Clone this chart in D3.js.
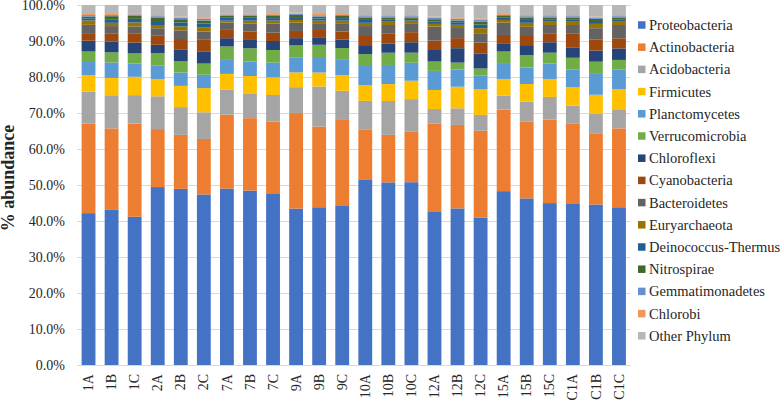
<!DOCTYPE html>
<html>
    <head>
        <script type="text/javascript" src="https://cdn.jsdelivr.net/npm/d3@7"></script>
        <style>
            body { margin: 0; background: #fff; }
            svg text { font-family: "Liberation Serif", "Times New Roman", serif; }
        </style>
    </head>
    <body>
        <div id="viz"></div>

        <script type="text/javascript">

         // samples on the x axis
         var samples = ["1A","1B","1C","2A","2B","2C","7A","7B","7C","9A","9B","9C",
                        "10A","10B","10C","12A","12B","12C","15A","15B","15C","C1A","C1B","C1C"];

         // phylum names, bottom of the stack first (same order as the legend)
         var phyla = ["Proteobacteria","Actinobacteria","Acidobacteria","Firmicutes","Planctomycetes",
                      "Verrucomicrobia","Chloroflexi","Cyanobacteria","Bacteroidetes","Euryarchaeota",
                      "Deinococcus-Thermus","Nitrospirae","Gemmatimonadetes","Chlorobi","Other Phylum"];

         var colors = ["#4472C4","#ED7D31","#A5A5A5","#FFC000","#5B9BD5",
                       "#70AD47","#264478","#9E480E","#636363","#997300",
                       "#255E91","#43682B","#698ED0","#F1975A","#B7B7B7"];

         // % abundance per phylum, one value per sample
         var proteobacteria   = [42.1,43.2,41.2,49.4,48.9,47.3,48.9,48.4,47.7,43.4,43.8,44.2,51.6,50.7,50.8,42.7,43.5,41.0,48.2,46.3,45.0,44.9,44.6,43.8];
         var actinobacteria   = [24.8,22.5,25.9,16.1,15.0,15.4,20.5,20.1,19.9,26.5,22.4,23.9,13.9,13.2,14.0,24.4,23.2,24.1,22.6,21.3,23.2,22.2,19.8,21.9];
         var acidobacteria    = [8.9,9.2,7.9,9.1,7.7,7.4,6.9,6.9,7.4,7.2,11.1,8.1,7.9,9.4,9.1,4.0,4.6,4.4,3.9,5.6,6.3,4.9,5.4,5.3];
         var firmicutes       = [4.6,4.8,5.1,4.8,5.9,6.7,4.4,4.8,4.9,4.1,3.9,4.4,4.4,4.7,5.1,5.3,6.0,7.1,4.6,4.9,5.0,5.1,5.3,5.6];
         var planctomycetes   = [3.6,4.3,3.7,3.7,3.7,3.7,4.1,4.0,4.1,4.2,4.3,4.4,5.3,5.3,5.0,5.3,4.8,3.8,4.4,4.6,4.3,5.0,5.8,5.5];
         var verrucomicrobia  = [2.9,2.8,2.8,3.5,3.1,3.1,3.5,3.7,3.5,3.3,3.4,3.1,3.3,3.4,2.8,2.6,1.9,2.0,3.2,3.4,3.0,3.2,3.4,2.6];
         var chloroflexi      = [3.0,3.0,3.0,2.3,3.2,3.4,2.3,2.3,2.5,2.0,2.1,2.3,2.5,2.6,2.9,3.2,4.0,4.2,2.3,2.8,2.9,2.9,3.1,3.2];
         var cyanobacteria    = [2.1,2.3,2.6,2.5,3.0,3.2,2.3,2.3,2.3,2.0,2.0,2.3,2.8,2.8,2.8,2.6,2.8,3.0,2.3,2.8,2.5,3.9,3.0,2.8];
         var bacteroidetes    = [2.3,2.0,1.9,2.1,2.4,2.3,2.0,2.3,2.6,2.3,1.7,2.1,2.5,2.3,2.3,3.9,2.8,2.6,3.4,2.3,2.3,2.3,3.2,3.7];
         var euryarchaeota    = [1.2,0.9,1.1,0.9,1.1,1.2,0.55,0.75,0.75,0.75,0.9,0.9,0.9,0.9,0.9,0.75,0.9,1.4,0.75,1.1,0.9,0.9,1.2,0.9];
         var deinococcus      = [0.6,1.0,1.0,1.1,1.1,1.0,0.8,0.8,0.7,0.8,0.6,0.7,0.8,0.7,0.5,0.7,0.7,1.0,0.6,0.8,0.7,0.7,0.8,0.7];
         var nitrospirae      = [0.5,0.85,0.85,1.0,0.9,0.85,0.6,0.6,0.6,0.6,0.5,0.6,0.7,0.5,0.4,0.6,0.5,0.85,0.5,0.7,0.5,0.5,0.6,0.5];
         var gemmatimonadetes = [0.4,0.3,0.4,0.35,0.4,0.5,0.35,0.35,0.3,0.35,0.4,0.3,0.35,0.35,0.35,0.4,0.5,0.5,0.3,0.35,0.35,0.35,0.35,0.35];
         var chlorobi         = [0.3,0.3,0.3,0.3,0.35,0.4,0.3,0.3,0.25,0.3,0.35,0.25,0.3,0.3,0.3,0.35,0.4,0.4,0.25,0.3,0.3,0.3,0.3,0.3];
         var otherPhylum      = [2.5,2.5,2.3,2.8,3.2,3.4,2.3,2.3,2.5,2.1,2.5,2.5,2.8,2.8,2.8,3.2,3.4,3.7,2.5,2.8,2.8,2.8,3.2,2.8];

         var series = [proteobacteria, actinobacteria, acidobacteria, firmicutes, planctomycetes,
                       verrucomicrobia, chloroflexi, cyanobacteria, bacteroidetes, euryarchaeota,
                       deinococcus, nitrospirae, gemmatimonadetes, chlorobi, otherPhylum];

         var yTicks = [0, 0.1, 0.2, 0.3, 0.4, 0.5, 0.6, 0.7, 0.8, 0.9, 1.0];

         // one row per sample for d3.stack
         var rows = samples.map(function(s, i) {
             var r = {sample: s};
             phyla.forEach(function(p, j) { r[p] = series[j][i]; });
             return r;
         });

         var width = 782, height = 402;
         // (window.top is read-only, so no plain "top" here)
         var plotLeft = 77, plotRight = 630.5, plotTop = 5, plotBottom = 365;
         var serif = "'Liberation Serif', 'Times New Roman', serif";

         var svg = d3.select("#viz")
                     .append("svg")
                     .attr("width", width)
                     .attr("height", height)
                     .style("font-family", serif);

         var x = d3.scaleBand()
                   .domain(samples)
                   .range([plotLeft, plotRight])
                   .paddingInner(0.4)
                   .paddingOuter(0.2);

         var y = d3.scaleLinear()
                   .domain([0, 1])
                   .range([plotBottom, plotTop]);

         var color = d3.scaleOrdinal().domain(phyla).range(colors);

         /**
          * gridlines + y tick labels
          */
         var yAxis = svg.append("g")
                        .attr("transform", "translate(" + plotLeft + ",0)")
                        .call(d3.axisLeft(y)
                                .tickValues(yTicks)
                                .tickFormat(d3.format(".1%"))
                                .tickSize(-(plotRight - plotLeft))
                                .tickPadding(12));
         yAxis.attr("font-family", serif).attr("font-size", 14);
         yAxis.select(".domain").remove();
         yAxis.selectAll(".tick line").attr("stroke", "#D9D9D9").attr("stroke-width", 1);
         yAxis.selectAll(".tick text").attr("fill", "#262626");

         /**
          * stacked bars, normalised to 100%
          */
         var stack = d3.stack().keys(phyla).offset(d3.stackOffsetExpand);
         var layers = stack(rows);

         svg.append("g")
            .selectAll("g")
            .data(layers)
            .enter().append("g")
            .attr("fill", function(d) { return color(d.key); })
            .selectAll("rect")
            .data(function(d) { return d; })
            .enter().append("rect")
            .attr("x", function(d) { return x(d.data.sample); })
            .attr("width", x.bandwidth())
            .attr("y", function(d) { return y(d[1]); })
            .attr("height", function(d) { return y(d[0]) - y(d[1]); });

         /**
          * x axis, labels turned on their side
          */
         var xAxis = svg.append("g")
                        .attr("transform", "translate(0," + plotBottom + ")")
                        .call(d3.axisBottom(x).tickSize(0).tickPadding(0));
         xAxis.attr("font-family", serif).attr("font-size", 14);
         xAxis.select(".domain").attr("stroke", "#D9D9D9");
         xAxis.selectAll(".tick text")
              .attr("fill", "#262626")
              .attr("text-anchor", "end")
              .attr("transform", "translate(0,9) rotate(-90)")
              .attr("x", 0)
              .attr("y", 0)
              .attr("dy", "0.33em");

         // y title
         svg.append("text")
            .attr("transform", "translate(14," + ((plotTop + plotBottom) / 2 - 7) + ") rotate(-90)")
            .attr("text-anchor", "middle")
            .style("font-size", "18px")
            .style("font-weight", "bold")
            .attr("fill", "#262626")
            .text("% abundance");

         /**
          * legend, one row per phylum
          */
         var legend = svg.append("g")
                         .selectAll("g")
                         .data(phyla)
                         .enter().append("g")
                         .attr("transform", function(d, i) { return "translate(638," + (25 + i * 22.2) + ")"; });

         legend.append("rect")
               .attr("x", 0)
               .attr("y", -3.75)
               .attr("width", 7.5)
               .attr("height", 7.5)
               .attr("fill", function(d) { return color(d); });

         legend.append("text")
               .attr("x", 11)
               .attr("y", 0)
               .attr("dy", "0.35em")
               .style("font-size", "14.5px")
               .attr("fill", "#262626")
               .text(function(d) { return d; });

        </script>
    </body>
</html>
